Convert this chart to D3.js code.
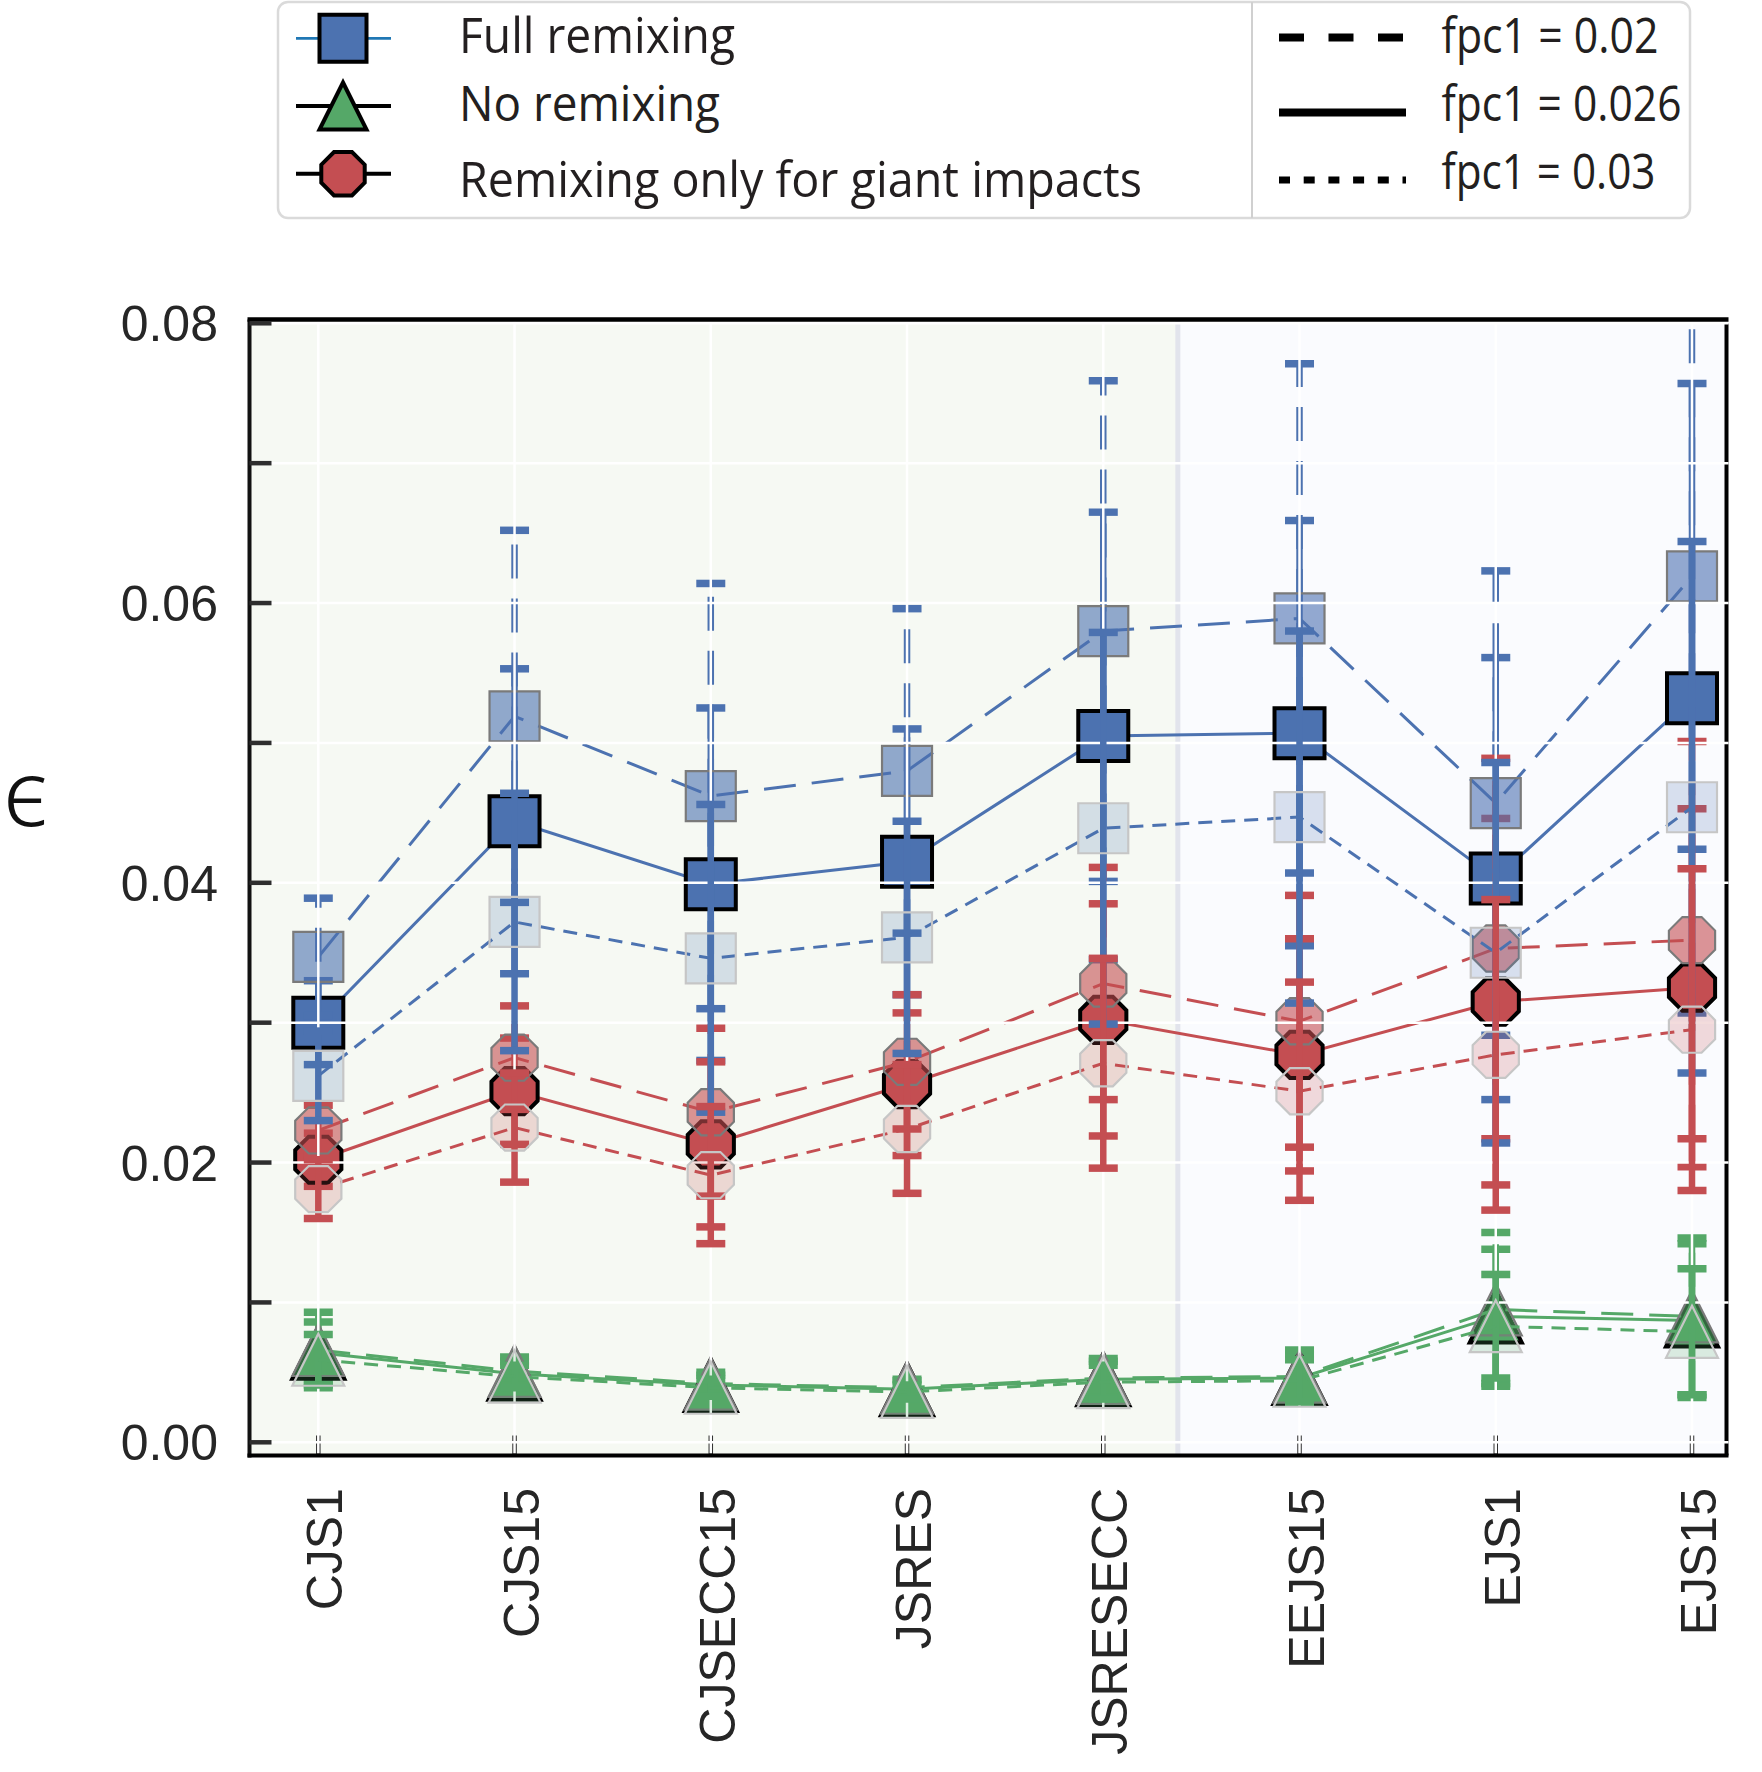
<!DOCTYPE html>
<html>
<head>
<meta charset="utf-8">
<script src="https://cdn.jsdelivr.net/npm/d3@7"></script>
<style>
  body { margin: 0; background: #fff; }
</style>
</head>
<body>
<div id="root"></div>
<script>
// Categories along the x axis
const categories = ['CJS1', 'CJS15', 'CJSECC15', 'JSRES', 'JSRESECC', 'EEJS15', 'EJS1', 'EJS15']

// Full remixing
const full026 = [0.0300, 0.0444, 0.0399, 0.0415, 0.0505, 0.0507, 0.0403, 0.0532]
const full026Err = [0.0030, 0.0109, 0.0126, 0.0095, 0.0160, 0.0152, 0.0158, 0.0225]
const full02 = [0.0347, 0.0519, 0.0462, 0.0480, 0.0580, 0.0589, 0.0457, 0.0619]
const full02Err = [0.0042, 0.0133, 0.0152, 0.0116, 0.0179, 0.0182, 0.0166, 0.0195]
const full03 = [0.0262, 0.0372, 0.0346, 0.0361, 0.0439, 0.0447, 0.0350, 0.0454]
const full03Err = [0.0032, 0.0092, 0.0110, 0.0083, 0.0140, 0.0133, 0.0136, 0.0190]

// No remixing
const none026 = [0.0064, 0.0049, 0.0041, 0.0038, 0.0045, 0.0046, 0.0090, 0.0087]
const none026Err = [0.0022, 0.0009, 0.0007, 0.0006, 0.0013, 0.0017, 0.0048, 0.0055]
const none02 = [0.0066, 0.0051, 0.0042, 0.0039, 0.0046, 0.0047, 0.0095, 0.0090]
const none02Err = [0.0027, 0.0010, 0.0008, 0.0006, 0.0014, 0.0019, 0.0055, 0.0056]
const none03 = [0.0059, 0.0047, 0.0039, 0.0036, 0.0043, 0.0044, 0.0083, 0.0079]
const none03Err = [0.0018, 0.0008, 0.0006, 0.0005, 0.0012, 0.0015, 0.0037, 0.0045]

// Remixing only for giant impacts
const giant026 = [0.0202, 0.0251, 0.0213, 0.0256, 0.0302, 0.0277, 0.0315, 0.0325]
const giant026Err = [0.0019, 0.0038, 0.0059, 0.0051, 0.0083, 0.0083, 0.0131, 0.0128]
const giant02 = [0.0223, 0.0275, 0.0236, 0.0272, 0.0328, 0.0301, 0.0353, 0.0359]
const giant02Err = [0.0018, 0.0037, 0.0060, 0.0048, 0.0083, 0.0090, 0.0136, 0.0142]
const giant03 = [0.0181, 0.0225, 0.0191, 0.0224, 0.0271, 0.0251, 0.0277, 0.0295]
const giant03Err = [0.0021, 0.0039, 0.0049, 0.0046, 0.0075, 0.0078, 0.0111, 0.0115]

// Y ticks (every 0.01, labelled every 0.02)
const yTicks = [0, 0.01, 0.02, 0.03, 0.04, 0.05, 0.06, 0.07, 0.08]
const yTickLabels = ['0.00', '', '0.02', '', '0.04', '', '0.06', '', '0.08']

// Legend labels
const groupLabels = ['Full remixing', 'No remixing', 'Remixing only for giant impacts']
const fpcLabels = ['fpc1 = 0.02', 'fpc1 = 0.026', 'fpc1 = 0.03']

// Index where the shaded background changes
const bandSplit = 4.38

const width = 1762
const height = 1772
const frame = { left: 249.5, right: 1726.5, top: 319.5, bottom: 1455.5 }

const x = d3.scaleLinear().domain([0, categories.length - 1]).range([318.3, 1692])
const y = d3.scaleLinear().domain([0, 0.08]).range([1442.3, 323.3])

const groups = [
  { label: groupLabels[0], color: '#4C72B0', shape: 'square', ms: 50,
    series: { '0.026': [full026, full026Err], '0.02': [full02, full02Err], '0.03': [full03, full03Err] } },
  { label: groupLabels[1], color: '#55A868', shape: 'triangle', ms: 52,
    series: { '0.026': [none026, none026Err], '0.02': [none02, none02Err], '0.03': [none03, none03Err] } },
  { label: groupLabels[2], color: '#C44E52', shape: 'octagon', ms: 50,
    series: { '0.026': [giant026, giant026Err], '0.02': [giant02, giant02Err], '0.03': [giant03, giant03Err] } }
]

// drawing order: solid first, then dashed, grid, then dotted
const styles = [
  { key: '0.026', dash: null, errDash: null, fillOpacity: 1, edge: '#000', edgeWidth: 4 },
  { key: '0.02', dash: '32,16', errDash: '34,20', fillOpacity: 0.6, edge: '#7a7a7a', edgeWidth: 2.2 },
  { key: '0.03', dash: '14,9', errDash: null, fillOpacity: 0.2, edge: '#c6c6c6', edgeWidth: 2.2 }
]

function markerPath(shape, ms) {
  const r = ms / 2
  if (shape === 'square') return `M${-r},${-r}H${r}V${r}H${-r}Z`
  if (shape === 'triangle') return `M0,${-r}L${r},${r}L${-r},${r}Z`
  const pts = d3.range(8).map(k => {
    const a = (22.5 + 45 * k) * Math.PI / 180
    return [r * Math.cos(a), r * Math.sin(a)]
  })
  return d3.line()(pts) + 'Z'
}

const svg = d3.select('#root').append('svg')
  .attr('width', width)
  .attr('height', height)
  .style('font-family', '"Liberation Sans", Arial, sans-serif')

svg.append('defs').append('clipPath').attr('id', 'plotclip')
  .append('rect')
  .attr('x', frame.left).attr('y', frame.top)
  .attr('width', frame.right - frame.left).attr('height', frame.bottom - frame.top)

// Backgrounds
svg.append('rect')
  .attr('x', frame.left).attr('y', frame.top)
  .attr('width', x(bandSplit) - frame.left).attr('height', frame.bottom - frame.top)
  .attr('fill', '#f6f9f3')
svg.append('rect')
  .attr('x', x(bandSplit)).attr('y', frame.top)
  .attr('width', frame.right - x(bandSplit)).attr('height', frame.bottom - frame.top)
  .attr('fill', '#fafbfe')
svg.append('line')
  .attr('x1', x(bandSplit)).attr('x2', x(bandSplit))
  .attr('y1', frame.top).attr('y2', frame.bottom)
  .attr('stroke', '#e2e4ec').attr('stroke-width', 5)

// x ticks (under the grid)
svg.append('g').selectAll('line')
  .data(categories)
  .enter().append('line')
  .attr('x1', (d, i) => x(i)).attr('x2', (d, i) => x(i))
  .attr('y1', frame.bottom - 20).attr('y2', frame.bottom)
  .attr('stroke', '#2e2e2e').attr('stroke-width', 4.5)

// right spine (under the grid)
svg.append('line')
  .attr('x1', frame.right).attr('x2', frame.right)
  .attr('y1', frame.top + 4).attr('y2', frame.bottom)
  .attr('stroke', '#000').attr('stroke-width', 4)

const plot = svg.append('g').attr('clip-path', 'url(#plotclip)')

function drawGrid() {
  const grid = svg.append('g').attr('stroke', '#fff').attr('stroke-width', 2.5)
  grid.selectAll('.h')
    .data(yTicks)
    .enter().append('line')
    .attr('x1', frame.left).attr('x2', frame.right + 2)
    .attr('y1', d => y(d)).attr('y2', d => y(d))
  grid.selectAll('.v')
    .data(categories)
    .enter().append('line')
    .attr('x1', (d, i) => x(i)).attr('x2', (d, i) => x(i))
    .attr('y1', frame.top).attr('y2', frame.bottom - 2)
}

function drawSeries(layerRoot, st) {
  groups.forEach(g => {
    const [vals, errs] = g.series[st.key]
    const pts = vals.map((v, i) => ({ i, v, e: errs[i] }))
    const layer = layerRoot.append('g')

    // error bars
    layer.selectAll('.bar')
      .data(pts)
      .enter().append('line')
      .attr('x1', d => x(d.i)).attr('x2', d => x(d.i))
      .attr('y1', d => y(d.v - d.e)).attr('y2', d => y(d.v + d.e))
      .attr('stroke', g.color).attr('stroke-width', 6.5)
      .attr('stroke-dasharray', st.errDash)

    // caps
    const caps = pts.flatMap(d => [d.v - d.e, d.v + d.e].map(c => ({ i: d.i, c })))
    layer.selectAll('.cap')
      .data(caps)
      .enter().append('line')
      .attr('x1', d => x(d.i) - 14.5).attr('x2', d => x(d.i) + 14.5)
      .attr('y1', d => y(d.c)).attr('y2', d => y(d.c))
      .attr('stroke', g.color).attr('stroke-width', 7.5)

    // connecting line
    const line = d3.line().x(d => x(d.i)).y(d => y(d.v))
    layer.append('path')
      .datum(pts)
      .attr('fill', 'none')
      .attr('stroke', g.color).attr('stroke-width', 3)
      .attr('stroke-dasharray', st.dash)
      .attr('d', line)

    // markers
    layer.selectAll('.mk')
      .data(pts)
      .enter().append('path')
      .attr('transform', d => `translate(${x(d.i)},${y(d.v)})`)
      .attr('d', markerPath(g.shape, g.ms))
      .attr('fill', g.color).attr('fill-opacity', st.fillOpacity)
      .attr('stroke', st.edge).attr('stroke-width', st.edgeWidth)
  })
}

drawSeries(plot, styles[0])
drawSeries(plot, styles[1])
drawGrid()
drawSeries(svg.append('g').attr('clip-path', 'url(#plotclip)'), styles[2])

// Left, bottom, top spines
svg.append('line')
  .attr('x1', frame.left).attr('x2', frame.left)
  .attr('y1', frame.top).attr('y2', frame.bottom + 2)
  .attr('stroke', '#111').attr('stroke-width', 4)
svg.append('line')
  .attr('x1', frame.left - 2).attr('x2', frame.right + 2)
  .attr('y1', frame.bottom).attr('y2', frame.bottom)
  .attr('stroke', '#000').attr('stroke-width', 4)
svg.append('line')
  .attr('x1', frame.left - 2).attr('x2', frame.right + 2)
  .attr('y1', frame.top).attr('y2', frame.top)
  .attr('stroke', '#000').attr('stroke-width', 4.5)

// y ticks
svg.append('g').selectAll('line')
  .data(yTicks)
  .enter().append('line')
  .attr('x1', frame.left).attr('x2', frame.left + 22)
  .attr('y1', d => y(d)).attr('y2', d => y(d))
  .attr('stroke', '#2e2e2e').attr('stroke-width', 4.5)

// y tick labels
svg.append('g').selectAll('text')
  .data(yTicks)
  .enter().append('text')
  .attr('x', 218)
  .attr('y', d => y(d) + 18)
  .attr('text-anchor', 'end')
  .attr('font-size', 50)
  .attr('fill', '#262626')
  .text((d, i) => yTickLabels[i])

// x tick labels
svg.append('g').selectAll('text')
  .data(categories)
  .enter().append('text')
  .attr('transform', (d, i) => `translate(${x(i) + 24},1488) rotate(-90)`)
  .attr('text-anchor', 'end')
  .attr('font-size', 50)
  .attr('fill', '#262626')
  .text(d => d)

// y label
svg.append('text')
  .attr('x', 3)
  .attr('y', 826)
  .attr('font-family', '"Noto Sans", "DejaVu Sans", sans-serif')
  .attr('font-weight', 300)
  .attr('font-size', 92)
  .attr('fill', '#111')
  .text('\u03f5')

// Legend
const legend = svg.append('g')
legend.append('rect')
  .attr('x', 278).attr('y', 2)
  .attr('width', 1412).attr('height', 216)
  .attr('rx', 10)
  .attr('fill', '#fff')
  .attr('stroke', '#dadada').attr('stroke-width', 2.5)
legend.append('line')
  .attr('x1', 1252).attr('x2', 1252)
  .attr('y1', 2).attr('y2', 218)
  .attr('stroke', '#d0d0d0').attr('stroke-width', 2)

const leftRows = [38.3, 106, 173.7]
const leftBase = [53.3, 120.7, 196.7]
const leftLen = [276, 261, 683]
const handleLine = ['#1f77b4', '#000', '#000']
const handleLineW = [2.8, 4, 4]
groups.forEach((g, k) => {
  legend.append('line')
    .attr('x1', 296).attr('x2', 391)
    .attr('y1', leftRows[k]).attr('y2', leftRows[k])
    .attr('stroke', handleLine[k]).attr('stroke-width', handleLineW[k])
  legend.append('path')
    .attr('transform', `translate(343,${leftRows[k]})`)
    .attr('d', markerPath(g.shape, 47))
    .attr('fill', g.color)
    .attr('stroke', '#000').attr('stroke-width', 4)
  legend.append('text')
    .attr('x', 459).attr('y', leftBase[k])
    .attr('font-family', '"Open Sans", sans-serif')
    .attr('font-size', 50)
    .attr('fill', '#231f20')
    .attr('textLength', leftLen[k])
    .attr('lengthAdjust', 'spacingAndGlyphs')
    .text(g.label)
})

const rightRows = [37.5, 112.5, 180]
const rightBase = [53.3, 120.7, 189]
const rightLen = [217, 240, 214]
const rightDash = ['25,24.5', null, '11,13.7']
const rightW = [8, 8, 7]
fpcLabels.forEach((lab, k) => {
  legend.append('line')
    .attr('x1', 1279).attr('x2', 1406)
    .attr('y1', rightRows[k]).attr('y2', rightRows[k])
    .attr('stroke', '#000').attr('stroke-width', rightW[k])
    .attr('stroke-dasharray', rightDash[k])
  legend.append('text')
    .attr('x', 1441.5).attr('y', rightBase[k])
    .attr('font-family', '"Open Sans", sans-serif')
    .attr('font-size', 50)
    .attr('fill', '#231f20')
    .attr('textLength', rightLen[k])
    .attr('lengthAdjust', 'spacingAndGlyphs')
    .text(lab)
})
</script>
</body>
</html>
